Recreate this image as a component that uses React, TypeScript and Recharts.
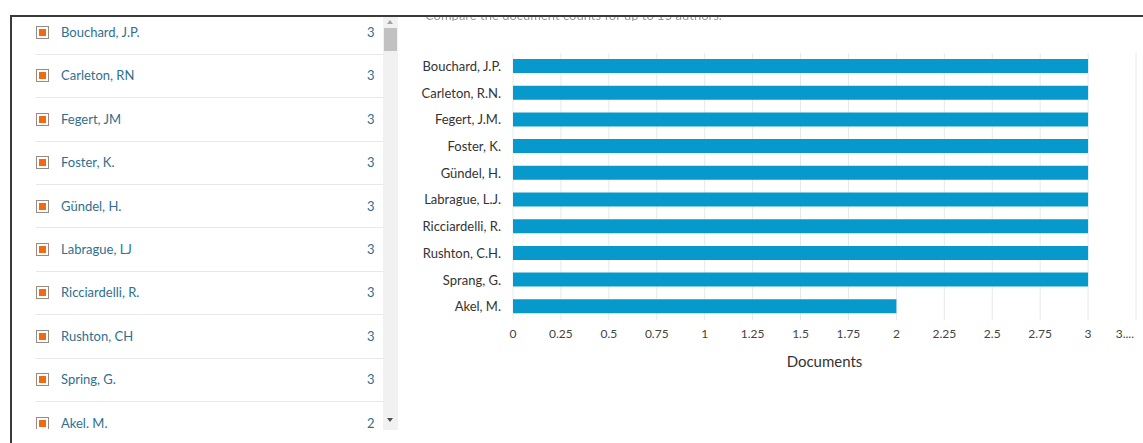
import React from "react";
import { BarChart, Bar, XAxis, YAxis, CartesianGrid } from "recharts";

const chartAuthors = [
  "Bouchard, J.P.",
  "Carleton, R.N.",
  "Fegert, J.M.",
  "Foster, K.",
  "Gündel, H.",
  "Labrague, L.J.",
  "Ricciardelli, R.",
  "Rushton, C.H.",
  "Sprang, G.",
  "Akel, M.",
];
const documentCounts = [3, 3, 3, 3, 3, 3, 3, 3, 3, 2];
const xTicks = [0, 0.25, 0.5, 0.75, 1, 1.25, 1.5, 1.75, 2, 2.25, 2.5, 2.75, 3, 3.25];

const listAuthors = [
  "Bouchard, J.P.",
  "Carleton, RN",
  "Fegert, JM",
  "Foster, K.",
  "Gündel, H.",
  "Labrague, LJ",
  "Ricciardelli, R.",
  "Rushton, CH",
  "Spring, G.",
  "Akel. M.",
];
const listCounts = [3, 3, 3, 3, 3, 3, 3, 3, 3, 2];

const data = chartAuthors.map((name, i) => ({ name, documents: documentCounts[i] }));

const FONT = "Lato, 'Open Sans', sans-serif";

function XTick(props: any) {
  const { x, y, payload } = props;
  const last = payload.value === 3.25;
  return (
    <text
      x={last ? x - 2 : x}
      y={y}
      dy="0.71em"
      textAnchor={last ? "end" : "middle"}
      fontSize={12}
      fill="#444"
      fontFamily={FONT}
    >
      {last ? "3...." : String(payload.value)}
    </text>
  );
}

export default function App() {
  const rowH = 43.4;
  return (
    <div style={{ position: "absolute", left: 0, top: 0, width: 1143, height: 443, background: "#fff", overflow: "hidden", fontFamily: FONT }}>
      {/* clipped caption */}
      <div style={{ position: "absolute", left: 425, top: 16, width: 320, height: 5, overflow: "hidden" }}>
        <div style={{ position: "absolute", top: -9, left: 0, fontSize: 13, color: "#9a9a9a", whiteSpace: "nowrap", filter: "blur(0.6px)" }}>
          Compare the document counts for up to 15 authors.
        </div>
      </div>
      {/* top border */}
      <div style={{ position: "absolute", left: 10, top: 15, width: 1133, height: 1.5, background: "#3a3a3a" }} />
      {/* left border */}
      <div style={{ position: "absolute", left: 10, top: 15, width: 2, height: 428, background: "#3a3a3a" }} />
      {/* list panel */}
      <div style={{ position: "absolute", left: 12, top: 17, width: 371, height: 412, overflow: "hidden" }}>
        {listAuthors.map((name, i) => {
          const cy = 32 - 17 + i * rowH;
          return (
            <div key={name}>
              <div style={{ position: "absolute", left: 24, top: cy - 6, width: 13, height: 13, boxSizing: "border-box", border: "1px solid #9a8a80", background: "#fff" }}>
                <div style={{ position: "absolute", left: 2, top: 2, width: 7, height: 7, background: "#f06a10" }} />
              </div>
              <div style={{ position: "absolute", left: 49, top: cy - 8, fontSize: 13, color: "#2f6f8f", whiteSpace: "nowrap" }}>{name}</div>
              <div style={{ position: "absolute", left: 355, top: cy - 8, fontSize: 13, color: "#2f6f8f" }}>{listCounts[i]}</div>
              {i < listAuthors.length - 1 && (
                <div style={{ position: "absolute", left: 24, top: cy + rowH / 2, width: 347, height: 1, background: "#e8e8e8" }} />
              )}
            </div>
          );
        })}
      </div>
      {/* scrollbar */}
      <div style={{ position: "absolute", left: 383, top: 17, width: 15, height: 413, background: "#f1f1f1" }}>
        <div style={{ position: "absolute", left: 4, top: 3, width: 0, height: 0, borderLeft: "3.5px solid transparent", borderRight: "3.5px solid transparent", borderBottom: "4px solid #a3a3a3" }} />
        <div style={{ position: "absolute", left: 1, top: 11, width: 13, height: 23, background: "#c1c1c1" }} />
        <div style={{ position: "absolute", left: 4, top: 401, width: 0, height: 0, borderLeft: "3.5px solid transparent", borderRight: "3.5px solid transparent", borderTop: "4px solid #505050" }} />
      </div>
      {/* chart */}
      <div style={{ position: "absolute", left: 400, top: 0 }}>
        <BarChart
          width={743}
          height={443}
          data={data}
          layout="vertical"
          margin={{ top: 53, right: 7, bottom: 63, left: 13 }}
          barCategoryGap={0}
        >
          <CartesianGrid horizontal={false} stroke="#e8e8e8" />
          <XAxis
            type="number"
            domain={[0, 3.25]}
            ticks={xTicks}
            axisLine={false}
            tickLine={false}
            tickSize={0}
            tickMargin={9}
            height={60}
            interval={0}
            tick={<XTick />}
            label={{ value: "Documents", position: "insideBottom", offset: 13, fontSize: 15, fill: "#333", fontFamily: FONT }}
          />
          <YAxis
            type="category"
            dataKey="name"
            width={100}
            axisLine={false}
            tickLine={false}
            tickSize={0}
            tickMargin={12}
            interval={0}
            tick={{ fontSize: 13, fill: "#333", fontFamily: FONT }}
          />
          <Bar dataKey="documents" fill="#0899cc" barSize={14} isAnimationActive={false} />
        </BarChart>
      </div>
    </div>
  );
}
